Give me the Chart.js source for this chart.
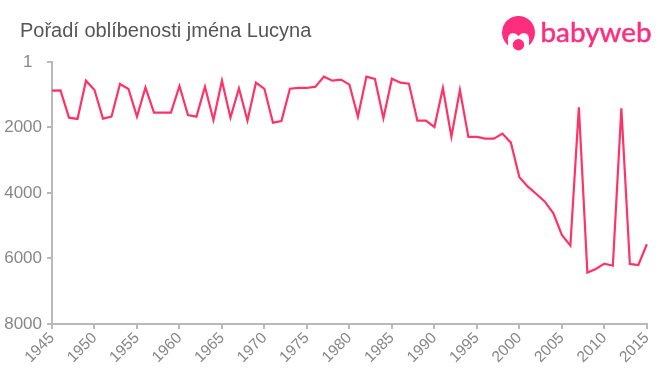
<!DOCTYPE html>
<html>
<head>
<meta charset="utf-8">
<script src="https://cdn.jsdelivr.net/npm/chart.js@4/dist/chart.umd.min.js"></script>
<style>
  html, body { margin: 0; padding: 0; background: #fff; }
  #wrap { position: relative; width: 660px; height: 375px; overflow: hidden; }
  #title { position: absolute; left: 20px; top: 19px; font: 20px "Liberation Sans", Arial, sans-serif; color: #555; }
  #logo { position: absolute; left: 490px; top: 5px; }
</style>
</head>
<body>
<div id="wrap">
  <canvas id="chart" width="660" height="375"></canvas>
  <div id="title">Pořadí oblíbenosti jména Lucyna</div>
  <svg id="logo" width="170" height="55" viewBox="0 0 170 55">
    <circle cx="28.5" cy="27.5" r="16.5" fill="#ff2d7e"/>
    <path d="M18 38 Q17 28 23 28 Q26 28 28.5 31 Q31 28 34 28 Q40 28 39 38 L39 48 L18 48 Z" fill="#fff"/>
    <circle cx="28.5" cy="39.7" r="5.7" fill="#ff2d7e"/>
    <text x="50.5" y="37" font-family="Lato, sans-serif" font-size="26.5" fill="#ff2d7e" stroke="#ff2d7e" stroke-width="0.5" textLength="111" lengthAdjust="spacingAndGlyphs">babyweb</text>
  </svg>
</div>
<script>
const years = [];
for (let y = 1945; y <= 2015; y++) years.push(y);

const ranks = [876, 870, 1700, 1740, 570, 855, 1730, 1670, 672, 825,
  1670, 775, 1548, 1548, 1548, 733, 1618, 1670, 754, 1771,
  571, 1700, 805, 1790, 632, 825, 1853, 1802, 815, 794,
  794, 754, 448, 571, 540, 693, 1670, 448, 519, 1720,
  510, 632, 662, 1792, 1792, 1985, 794, 2280, 855, 2290,
  2290, 2340, 2340, 2187, 2463, 3520, 3806, 4030, 4264, 4620,
  5280, 5607, 1384, 6430, 6320, 6158, 6220, 1415, 6167, 6198, 5566];

const yTicks = [1, 2000, 4000, 6000, 8000];
const axisColor = '#b9b9b9';
const tickColor = '#888';

const ctx = document.getElementById('chart').getContext('2d');
new Chart(ctx, {
  type: 'line',
  data: {
    datasets: [{
      data: years.map((y, i) => ({ x: y, y: ranks[i] })),
      borderColor: '#ff3366',
      borderWidth: 2.2,
      pointRadius: 0,
      tension: 0,
      fill: false,
      clip: false
    }]
  },
  options: {
    responsive: false,
    animation: false,
    layout: { padding: { top: 62, right: 12, left: 0, bottom: 0 } },
    plugins: { legend: { display: false }, title: { display: false }, tooltip: { enabled: false } },
    scales: {
      x: {
        type: 'linear',
        min: 1945,
        max: 2015,
        afterFit: scale => { scale.height = 51; },
        grid: { drawOnChartArea: false, color: axisColor, lineWidth: 2, tickLength: 5 },
        border: { color: axisColor, width: 2 },
        ticks: {
          stepSize: 5,
          autoSkip: false,
          maxRotation: 45,
          minRotation: 45,
          padding: 0,
          color: tickColor,
          font: { family: '"Liberation Sans", Arial, sans-serif', size: 15.5 },
          callback: v => String(v)
        }
      },
      y: {
        reverse: true,
        min: 1,
        max: 8000,
        afterFit: scale => { scale.width = 52; },
        afterBuildTicks: scale => { scale.ticks = yTicks.map(v => ({ value: v })); },
        grid: { drawOnChartArea: false, color: axisColor, lineWidth: 2, tickLength: 5 },
        border: { color: axisColor, width: 2 },
        ticks: {
          padding: 5,
          color: tickColor,
          font: { family: '"Liberation Sans", Arial, sans-serif', size: 17 },
          callback: v => (v === 1 ? '1  ' : String(v))
        }
      }
    }
  }
});
</script>
</body>
</html>
